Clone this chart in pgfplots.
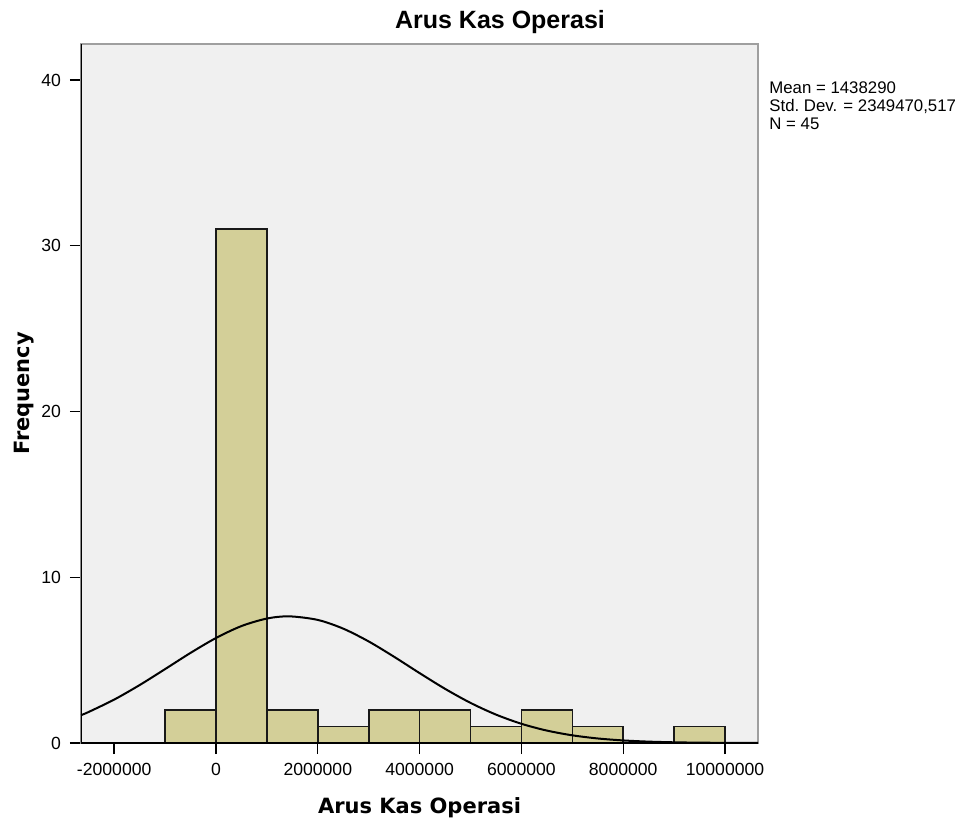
\documentclass[border=0pt]{standalone}
\usepackage{fontspec}
\setmainfont{Liberation Sans}
\newfontfamily\dejavu{DejaVu Sans}
\usepackage{pgfplots}
\pgfplotsset{compat=1.18}
\definecolor{barfill}{HTML}{D3CF98}
\definecolor{bg}{HTML}{F0F0F0}
\begin{document}
\begin{tikzpicture}
\path[use as bounding box] (-40.5pt,-39pt) rectangle (444pt,371.5pt);
\begin{axis}[
  at={(0pt,0pt)}, anchor=south west,
  scale only axis, width=338.5pt, height=349.5pt,
  xmin=-2.652, xmax=10.648, ymin=0, ymax=42.17,
  axis background/.style={fill=bg},
  axis line style={draw=gray!75, line width=0.9pt},
  xtick={-2,0,2,4,6,8,10},
  xticklabels={-2000000,0,2000000,4000000,6000000,8000000,10000000},
  ytick={0,10,20,30,40},
  tick pos=left, tick align=outside,
  major tick length=5.5pt,
  tick style={black, line width=0.7pt},
  /pgf/number format/assume math mode=true,
  ticklabel style={font=\fontsize{8.8}{10}\selectfont},
  xticklabel style={yshift=-1pt},
  yticklabel style={xshift=-1pt},
  xlabel={\dejavu\bfseries Arus Kas Operasi},
  ylabel={\dejavu\bfseries Frequency},
  label style={font=\fontsize{10.5}{12}\selectfont},
  xlabel style={yshift=-4pt},
  ylabel style={yshift=-3pt},
  clip=true,
]
\addplot[ybar interval, fill=barfill, draw=black!90, line width=0.8pt] coordinates {
  (-1,2) (0,31) (1,2) (2,1) (3,2) (4,2) (5,1) (6,2) (7,1) (8,0) (9,1) (10,1)
};
\addplot[smooth, black, line width=1pt] coordinates {
  (-2.65,1.681) (-2.5,1.875) (-2.0,2.619) (-1.5,3.496) (-1.0,4.459) (-0.5,5.437)
  (0,6.335) (0.5,7.055) (1.0,7.509) (1.438,7.641) (2.0,7.426) (2.5,6.899)
  (3.0,6.127) (3.5,5.200) (4.0,4.217) (4.5,3.269) (5.0,2.421) (5.5,1.715)
  (6.0,1.160) (6.5,0.750) (7.0,0.464) (7.5,0.274) (8.0,0.155) (8.5,0.0835)
  (9.0,0.0431) (9.5,0.0212) (10.0,0.0100) (10.5,0.0045) (10.65,0.0035)
};
\draw[black, line width=0.9pt] (rel axis cs:0,1) -- (rel axis cs:0,0) -- (rel axis cs:1,0);
\end{axis}
\node[font=\fontsize{12.5}{14}\selectfont\bfseries] at (209.5pt,360.5pt) {Arus Kas Operasi};
\node[anchor=north west, align=left, inner sep=0pt, font=\fontsize{8.4}{9.2}\selectfont] at (344pt,331pt) {Mean = 1438290\\Std.\ Dev. = 2349470,517\\N = 45};
\end{tikzpicture}
\end{document}
